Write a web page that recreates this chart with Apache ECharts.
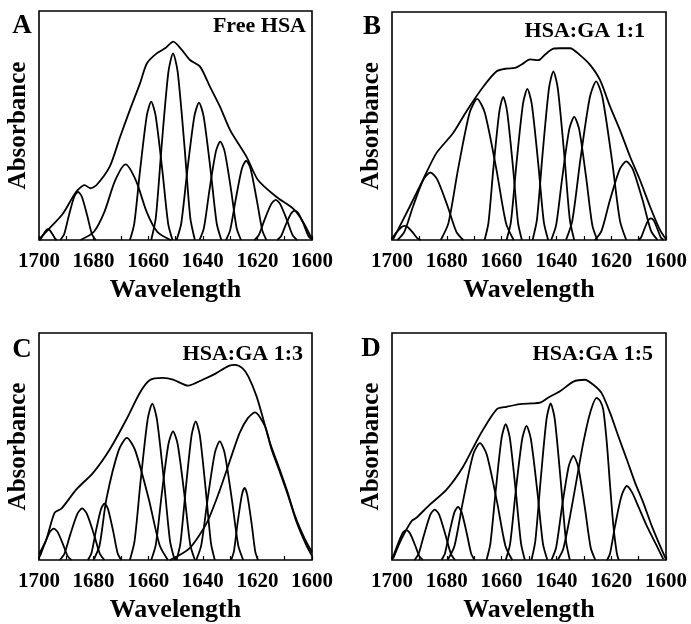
<!DOCTYPE html>
<html>
<head>
<meta charset="utf-8">
<script src="https://cdn.jsdelivr.net/npm/echarts@6/dist/echarts.min.js"></script>
<style>
  html, body { margin: 0; padding: 0; background: #fff; }
  #main { width: 691px; height: 624px; }
</style>
</head>
<body>
<div id="main"></div>
<script>
// wavelength axis and panel texts
const wavelengthMin = 1600;
const wavelengthMax = 1700;
const panelLetters = ['A', 'B', 'C', 'D'];
const panelTitles = ['Free HSA', 'HSA:GA 1:1', 'HSA:GA 1:3', 'HSA:GA 1:5'];

// absorbance in % of plot height: [wavelength, absorbance]
const envelopeA = [[1700,0.3],[1696.7,4.4],[1691.2,11.6],[1687.5,19],[1685.7,22],[1683.3,24],[1681.2,22.6],[1679,23.9],[1674.1,32],[1670.3,45],[1666.7,56.8],[1663,68.4],[1660.5,77.1],[1656.9,81.5],[1653.8,83.7],[1650.8,86.6],[1647.7,83],[1644.7,78.6],[1641,75.7],[1637.4,67],[1633.7,58.2],[1630,48],[1624,36.4],[1619.8,26.2],[1613.1,18.9],[1607,13.8],[1603.3,8],[1600,0.3]];
const bandsA = [
  [[1699.9,0],[1699.3,0.6],[1698.4,2.4],[1697.4,4.2],[1696.7,4.7],[1696,4.2],[1695,2.4],[1694.1,0.6],[1693.5,0]],
  [[1692.2,0],[1690.8,2.5],[1689.1,10.5],[1687.1,18.9],[1685.7,21],[1684.3,18.9],[1682.3,10.5],[1680.6,2.5],[1679.2,0]],
  [[1684.8,0],[1679.9,3.6],[1676,12.4],[1672.2,25.7],[1668.3,33],[1664.4,25.7],[1660.6,12.4],[1656.7,3.6],[1651.8,0]],
  [[1666.7,0],[1665.1,7.2],[1663,30.2],[1660.5,54.4],[1658.9,60.4],[1657.3,54.4],[1654.8,30.2],[1652.7,7.2],[1651.1,0]],
  [[1658.9,0],[1657.2,9.8],[1655.1,40.8],[1652.6,73.4],[1650.9,81.5],[1649.2,73.4],[1646.7,40.8],[1644.6,9.8],[1642.9,0]],
  [[1649.6,0],[1647.9,7.2],[1645.7,30],[1643.1,54],[1641.4,60],[1639.7,54],[1637.1,30],[1634.9,7.2],[1633.2,0]],
  [[1641.2,0],[1639.6,5.2],[1637.6,21.5],[1635.2,38.7],[1633.6,43],[1632,38.7],[1629.6,21.5],[1627.6,5.2],[1626,0]],
  [[1631.5,0],[1630,4.2],[1628,17.3],[1625.7,31.1],[1624.1,34.6],[1622.5,31.1],[1620.2,17.3],[1618.2,4.2],[1616.7,0]],
  [[1621.1,0],[1619.5,2.1],[1617.4,8.8],[1614.9,15.8],[1613.3,17.5],[1611.7,15.8],[1609.2,8.8],[1607.1,2.1],[1605.5,0]],
  [[1612.8,0],[1611.4,1.5],[1609.7,6.4],[1607.7,11.5],[1606.3,12.8],[1604.9,11.5],[1602.9,6.4],[1601.2,1.5],[1599.8,0]]
];

const envelopeB = [[1699.6,0.3],[1693.5,14.7],[1688.7,26.4],[1683.8,38.1],[1677.7,46.9],[1672.8,56.5],[1666.7,67.2],[1661.8,74],[1658.2,75.2],[1655.1,75.5],[1652.7,77],[1649.6,79.2],[1646.6,78.9],[1644.1,81.4],[1641.1,83.9],[1638.7,84.1],[1635,84.1],[1631.4,81.1],[1627.7,76.8],[1624.1,70.2],[1620.4,58.5],[1616.8,48.2],[1613.1,36.5],[1609.5,26.3],[1605.8,14.6],[1602.2,4.4],[1600,0.3]];
const bandsB = [
  [[1701.3,0],[1700.1,0.7],[1698.5,3.1],[1696.6,5.6],[1695.4,6.2],[1694.2,5.6],[1692.3,3.1],[1690.7,0.7],[1689.5,0]],
  [[1698,0],[1695.5,3.6],[1692.3,14.8],[1688.5,26.6],[1686,29.6],[1683.5,26.6],[1679.7,14.8],[1676.5,3.6],[1674,0]],
  [[1682.2,0],[1679.4,7.4],[1675.9,31],[1671.7,55.7],[1668.9,61.9],[1666.1,55.7],[1661.9,31],[1658.4,7.4],[1655.6,0]],
  [[1666.2,0],[1664.8,7.5],[1663,31.4],[1660.8,56.5],[1659.4,62.8],[1658,56.5],[1655.8,31.4],[1654,7.5],[1652.6,0]],
  [[1658.2,0],[1656.6,8],[1654.6,33.2],[1652.2,59.7],[1650.6,66.3],[1649,59.7],[1646.6,33.2],[1644.6,8],[1643,0]],
  [[1648.7,0],[1647.1,8.9],[1645.1,37],[1642.7,66.6],[1641.1,74],[1639.5,66.6],[1637.1,37],[1635.1,8.9],[1633.5,0]],
  [[1641.9,0],[1640.1,6.5],[1637.9,27],[1635.3,48.6],[1633.5,54],[1631.7,48.6],[1629.1,27],[1626.9,6.5],[1625.1,0]],
  [[1636.5,0],[1634.2,8.4],[1631.3,34.8],[1627.8,62.6],[1625.5,69.6],[1623.2,62.6],[1619.7,34.8],[1616.8,8.4],[1614.5,0]],
  [[1625.9,0],[1623.5,4.1],[1620.5,17.3],[1616.9,31],[1614.5,34.5],[1612.1,31],[1608.5,17.3],[1605.5,4.1],[1603.1,0]],
  [[1610.1,0],[1609.1,1.1],[1607.9,4.8],[1606.5,8.6],[1605.5,9.5],[1604.5,8.6],[1603.1,4.8],[1601.9,1.1],[1600.9,0]]
];

const envelopeC = [[1700,2.5],[1697.3,9.1],[1694.3,20.8],[1691.8,22.6],[1686.3,31.1],[1680.2,38.4],[1674.1,48.7],[1668,61.9],[1663.1,73.6],[1659.5,79.2],[1654.6,80.2],[1650.9,79.5],[1645.4,76.8],[1639.9,79.5],[1635.5,82],[1630.5,85.5],[1628.2,86],[1625.5,84.5],[1623.3,80.8],[1620.3,72.1],[1617.8,61.8],[1615.4,51.6],[1612.3,41.4],[1609.3,31.1],[1606.2,19.4],[1602.6,9.2],[1600,3.4]];
const bandsC = [
  [[1701.1,0],[1699.7,1.7],[1698,6.9],[1696,12.4],[1694.6,13.8],[1693.2,12.4],[1691.2,6.9],[1689.5,1.7],[1688.1,0]],
  [[1692.4,0],[1690.7,2.7],[1688.5,11.4],[1685.9,20.4],[1684.2,22.7],[1682.5,20.4],[1679.9,11.4],[1677.7,2.7],[1676,0]],
  [[1682.1,0],[1680.8,3],[1679.2,12.5],[1677.3,22.4],[1676,24.9],[1674.7,22.4],[1672.8,12.5],[1671.2,3],[1669.9,0]],
  [[1680,0],[1677.8,6.5],[1675.3,26.9],[1670.8,48.4],[1667.8,53.8],[1664.8,48.4],[1659.8,26.9],[1655.8,6.5],[1652.8,0]],
  [[1666.7,0],[1665,8.3],[1662.8,34.5],[1660.2,62],[1658.5,68.9],[1656.8,62],[1654.2,34.5],[1652,8.3],[1650.3,0]],
  [[1658.9,0],[1657.2,6.8],[1655.1,28.4],[1652.6,51],[1650.9,56.7],[1649.2,51],[1646.7,28.4],[1644.6,6.8],[1642.9,0]],
  [[1649.6,0],[1648.2,7.3],[1646.3,30.6],[1644.1,55],[1642.6,61.1],[1641.1,55],[1638.9,30.6],[1637,7.3],[1635.6,0]],
  [[1642.4,0],[1640.6,6.3],[1638.3,26.2],[1635.6,47.1],[1633.8,52.3],[1632,47.1],[1629.3,26.2],[1627,6.3],[1625.2,0]],
  [[1629.6,0],[1628.6,3.8],[1627.3,15.9],[1625.7,28.6],[1624.7,31.8],[1623.7,28.6],[1622.1,15.9],[1620.8,3.8],[1619.8,0]],
  [[1652,0],[1645,5],[1638.7,16],[1634,30],[1630,44],[1626.5,56],[1623.5,62.5],[1620.9,65],[1617.2,58.9],[1614.8,48.7],[1611.7,38.5],[1608.7,28.2],[1605.6,16.5],[1602,6.3],[1600,1.8]]
];

const envelopeD = [[1699.6,0.6],[1696.6,9.1],[1692.9,17.1],[1691.1,18.6],[1686.2,24.4],[1680.1,31],[1674,41.2],[1667.9,55.1],[1661.8,66.4],[1658.2,67.5],[1653.3,68.7],[1649,69],[1646,69.3],[1642.9,71.6],[1638.7,74.3],[1633.8,78.6],[1629.6,79.4],[1626.5,77.2],[1623.5,73.5],[1620.4,64.8],[1617.4,54.5],[1614.3,44.3],[1611.3,34.1],[1608.3,25.3],[1605.2,15],[1602.2,6.3],[1600,0.3]];
const bandsD = [
  [[1700.9,0],[1699.6,1.6],[1698,6.6],[1696.1,11.9],[1694.8,13.2],[1693.5,11.9],[1691.6,6.6],[1690,1.6],[1688.7,0]],
  [[1691.8,0],[1690.3,2.7],[1688.3,11.1],[1686,20],[1684.4,22.2],[1682.8,20],[1680.5,11.1],[1678.5,2.7],[1677,0]],
  [[1682,0],[1680.7,2.8],[1679.1,11.7],[1677.2,21.1],[1675.9,23.4],[1674.6,21.1],[1672.7,11.7],[1671.1,2.8],[1669.8,0]],
  [[1679.7,0],[1677.2,6.2],[1674.1,25.8],[1670.4,46.4],[1667.9,51.5],[1665.4,46.4],[1661.7,25.8],[1658.6,6.2],[1656.1,0]],
  [[1665.5,0],[1664.1,7.2],[1662.2,29.9],[1660,53.8],[1658.5,59.8],[1657,53.8],[1654.8,29.9],[1652.9,7.2],[1651.5,0]],
  [[1658.5,0],[1656.9,7.1],[1654.9,29.6],[1652.5,53.2],[1650.9,59.1],[1649.3,53.2],[1646.9,29.6],[1644.9,7.1],[1643.3,0]],
  [[1649.1,0],[1647.7,8.3],[1645.8,34.5],[1643.6,62.1],[1642.1,69],[1640.6,62.1],[1638.4,34.5],[1636.5,8.3],[1635.1,0]],
  [[1641.8,0],[1640.1,5.5],[1638,23],[1635.5,41.3],[1633.8,45.9],[1632.1,41.3],[1629.6,23],[1627.5,5.5],[1625.8,0]],
  [[1639.5,0],[1637.5,4.8],[1635,19.4],[1632.6,35.5],[1630.2,51.6],[1627.7,64.8],[1625.3,71.4],[1624,70],[1622.9,66.2],[1621.6,51.6],[1620.4,32.6],[1619.2,15],[1618,3.4],[1617.2,0]],
  [[1621.5,0],[1620.4,3],[1618.6,15],[1616.3,28],[1614.3,32.6],[1612.5,30],[1610.7,25.3],[1607,15],[1603.4,6.3],[1601,0.4]]
];

const panels = [
  { envelope: envelopeA, bands: bandsA },
  { envelope: envelopeB, bands: bandsB },
  { envelope: envelopeC, bands: bandsC },
  { envelope: envelopeD, bands: bandsD }
];

const FONT = "'Liberation Serif', 'Times New Roman', serif";

const grids = [
  { left: 39, top: 11, width: 273, height: 229 },
  { left: 392, top: 12, width: 274, height: 228 },
  { left: 39, top: 333, width: 273, height: 228 },
  { left: 392, top: 333, width: 274, height: 228 }
];

const chart = echarts.init(document.getElementById('main'));

const series = [];
panels.forEach((p, i) => {
  [p.envelope].concat(p.bands).forEach(curve => {
    series.push({
      type: 'line',
      xAxisIndex: i,
      yAxisIndex: i,
      data: curve,
      smooth: 0.25,
      symbol: 'none',
      silent: true,
      lineStyle: { color: '#000', width: 1.8 }
    });
  });
});

const letterPos = [[22, 26], [372, 27], [22, 350], [371, 349]];
const titlePos = [[306, 26], [645, 31], [303, 354], [653, 354]];

const graphic = [];
panelLetters.forEach((t, i) => {
  graphic.push({
    type: 'text', x: letterPos[i][0], y: letterPos[i][1], silent: true,
    style: { text: t, font: 'bold 27px ' + FONT, fill: '#000', align: 'center', verticalAlign: 'middle' }
  });
  graphic.push({
    type: 'text', x: titlePos[i][0], y: titlePos[i][1], silent: true,
    style: { text: panelTitles[i], font: 'bold 22px ' + FONT, fill: '#000', align: 'right', verticalAlign: 'middle' }
  });
});

const option = {
  backgroundColor: '#fff',
  animation: false,
  grid: grids.map(g => Object.assign({ show: true, borderColor: '#000', borderWidth: 1.6, backgroundColor: 'transparent' }, g)),
  xAxis: grids.map((g, i) => ({
    type: 'value',
    gridIndex: i,
    min: wavelengthMin,
    max: wavelengthMax,
    interval: 20,
    inverse: true,
    name: 'Wavelength',
    nameLocation: 'middle',
    nameGap: 37,
    nameTextStyle: { fontFamily: FONT, fontWeight: 'bold', fontSize: 26, color: '#000' },
    axisLine: { show: false },
    axisTick: { show: true, inside: true, length: 4, lineStyle: { color: '#000', width: 1.2 } },
    minorTick: { show: true, splitNumber: 2, length: 4, lineStyle: { color: '#000', width: 1.2 } },
    splitLine: { show: false },
    axisLabel: {
      fontFamily: FONT, fontWeight: 'bold', fontSize: 21, color: '#000', margin: 11,
      formatter: v => String(v)
    }
  })),
  yAxis: grids.map((g, i) => ({
    type: 'value',
    gridIndex: i,
    min: 0,
    max: 100,
    name: 'Absorbance',
    nameLocation: 'middle',
    nameGap: 8,
    nameTextStyle: { fontFamily: FONT, fontWeight: 'bold', fontSize: 25, color: '#000' },
    axisLine: { show: false },
    axisTick: { show: false },
    axisLabel: { show: false },
    splitLine: { show: false }
  })),
  graphic: graphic,
  series: series
};

chart.setOption(option);
</script>
</body>
</html>
